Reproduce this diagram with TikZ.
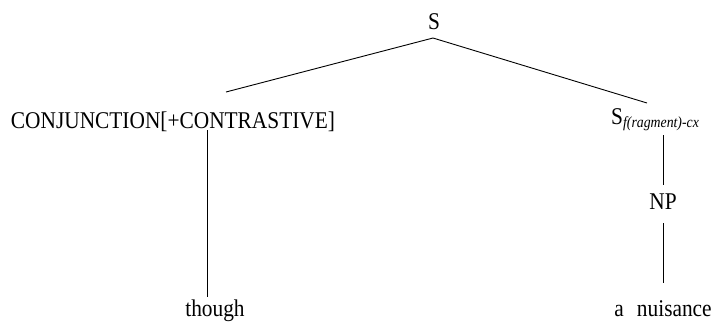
\documentclass[tikz,border=0pt]{standalone}
\usepackage{fontspec}
\setmainfont{Liberation Serif}
\newfontfamily\treefont{Liberation Serif}[FakeStretch=0.89]

\begin{document}
\begin{tikzpicture}[x=1pt,y=-1pt,
  cat/.style={anchor=base,inner sep=0pt,font=\treefont\fontsize{24}{28}\selectfont},
  branch/.style={line width=0.9pt}]
\useasboundingbox (0,0) rectangle (719,325);

% categories
\node[cat] (s) at (434,29) {S};
\node[cat] (conj) at (173,128) {CONJUNCTION[+CONTRASTIVE]};
\node[cat,anchor=base west] (sfrag) at (611,124)
  {S\raisebox{-3pt}{\fontsize{15.5}{17}\selectfont\itshape f(ragment)-cx}};
\node[cat] (np) at (663,209) {NP};
\node[cat] (though) at (215,316) {though};
\node[cat] (nuis) at (663,316) {a\hspace{0.55em}nuisance};

% branch ends
\coordinate (s-root) at (433,38);
\coordinate (conj-top) at (226,92);
\coordinate (sfrag-top) at (647,103);
\coordinate (conj-foot) at (207,130);
\coordinate (though-top) at (207,297);
\coordinate (sfrag-foot) at (663,135);
\coordinate (np-top) at (663,185);
\coordinate (np-foot) at (663,223);
\coordinate (nuis-top) at (663,283);

\draw[branch] (s-root) -- (conj-top);
\draw[branch] (s-root) -- (sfrag-top);
\draw[branch] (conj-foot) -- (though-top);
\draw[branch] (sfrag-foot) -- (np-top);
\draw[branch] (np-foot) -- (nuis-top);

\end{tikzpicture}
\end{document}
